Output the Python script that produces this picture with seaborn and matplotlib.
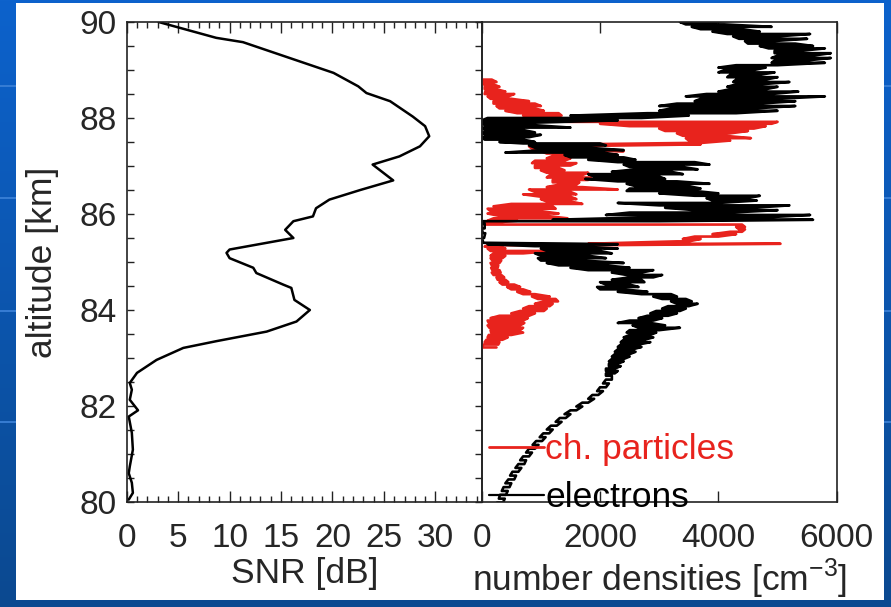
import numpy as np
import pandas as pd
import matplotlib
matplotlib.use("Agg")
import matplotlib.pyplot as plt
from matplotlib.patches import Rectangle
from matplotlib.lines import Line2D
from matplotlib.colors import LinearSegmentedColormap
import seaborn as sns

# ---------------- data ----------------
snr_alt = [90.0, 89.67, 89.58, 89.18, 88.94, 88.66, 88.52, 88.35, 88.03, 87.83, 87.62,
           87.41, 87.2, 87.03, 86.7, 86.5, 86.3, 86.12, 85.95, 85.85, 85.67, 85.5,
           85.26, 85.19, 85.08, 84.88, 84.77, 84.53, 84.46, 84.21, 84.0, 83.76, 83.55,
           83.35, 83.21, 82.96, 82.69, 82.48, 82.34, 82.13, 81.91, 81.78, 81.44, 81.09,
           80.74, 80.6, 80.4, 80.19, 80.05]
snr_db = [3.1, 8.7, 11.3, 16.8, 20.1, 22.5, 23.3, 25.6, 27.8, 29.0, 29.4,
          28.5, 26.5, 23.9, 25.9, 22.7, 19.7, 18.4, 18.1, 16.2, 15.4, 16.2,
          10.0, 9.7, 10.0, 12.3, 12.6, 15.2, 16.0, 16.3, 17.8, 16.5, 13.6,
          8.7, 5.5, 2.9, 1.0, 0.3, 0.5, 0.3, 1.1, 0.2, 0.5, 0.6,
          0.3, 0.2, 0.5, 0.6, 0.2]

# electrons: altitude rows with the low / high extent of the noisy profile
e_alt = [90.05, 90.00, 89.95, 89.90, 89.85, 89.80, 89.75, 89.70, 89.65, 89.60,
         89.55, 89.50, 89.45, 89.40, 89.35, 89.30, 89.25, 89.20, 89.15, 89.10,
         89.05, 89.00, 88.95, 88.90, 88.85, 88.80, 88.75, 88.70, 88.65, 88.60,
         88.55, 88.50, 88.45, 88.40, 88.35, 88.30, 88.25, 88.20, 88.15, 88.10,
         88.05, 88.00, 87.95, 87.90, 87.85, 87.80, 87.75, 87.70, 87.65, 87.60,
         87.55, 87.50, 87.47, 87.43, 87.38, 87.33, 87.28, 87.23, 87.18, 87.13,
         87.08, 87.03, 86.98, 86.93, 86.88, 86.83, 86.78, 86.73, 86.68, 86.63,
         86.58, 86.53, 86.48, 86.43, 86.38, 86.33, 86.28, 86.23, 86.18, 86.13,
         86.08, 86.03, 85.98, 85.93, 85.88, 85.85, 85.80, 85.70, 85.60, 85.50,
         85.40, 85.37, 85.33, 85.28, 85.23, 85.18, 85.13, 85.08, 85.03, 84.98,
         84.93, 84.88, 84.83, 84.78, 84.73, 84.68, 84.63, 84.58, 84.53, 84.48,
         84.43, 84.38, 84.33, 84.28, 84.23, 84.18, 84.13, 84.08, 84.03, 83.98,
         83.93, 83.88, 83.83, 83.78, 83.73, 83.68, 83.63, 83.58, 83.53, 83.48,
         83.43, 83.38, 83.33, 83.28, 83.23, 83.18, 83.13, 83.08, 83.03, 82.98,
         82.93, 82.88, 82.83, 82.78, 82.73, 82.68, 82.63, 82.55, 82.47, 82.39,
         82.31, 82.23, 82.15, 82.07, 81.99, 81.91, 81.83, 81.75, 81.67, 81.59,
         81.51, 81.43, 81.35, 81.27, 81.19, 81.11, 81.03, 80.95, 80.87, 80.79,
         80.71, 80.63, 80.55, 80.47, 80.39, 80.31, 80.23, 80.15, 80.07, 79.99]
e_lo = [3300, 3350, 3450, 3550, 3700, 3900, 4150, 4250, 4350, 4450,
        4500, 4700, 4850, 4950, 4950, 5000, 4900, 4950, 4900, 4300,
        4000, 4100, 4000, 4200, 4150, 4300, 4250, 4300, 4150, 4200,
        4000, 3800, 3450, 3700, 3600, 3300, 3000, 3200, 3000, 2800,
        1500, 100, 0, 0, 50, 0, 50, 0, 50, 0,
        50, 300, 700, 800, 900, 1000, 400, 1400, 1500, 1800,
        2300, 2400, 2500, 2600, 2200, 1800, 1900, 1750, 2300, 2450,
        2600, 2500, 2450, 3000, 3600, 3800, 3900, 2300, 3000, 3100,
        3600, 2500, 2100, 2800, 1200, 0, 0, 0, 20, 0,
        30, 100, 900, 1000, 1100, 900, 1000, 950, 1000, 1100,
        1300, 1500, 1800, 2200, 2450, 2500, 2200, 2000, 2100, 1950,
        2000, 2300, 2700, 2900, 3050, 3200, 3300, 3150, 3050, 2950,
        2850, 2800, 2650, 2500, 2300, 2550, 2650, 2500, 2450, 2500,
        2400, 2400, 2350, 2350, 2300, 2300, 2250, 2250, 2200, 2200,
        2150, 2150, 2150, 2100, 2100, 2100, 2100, 2100, 2050, 2000,
        1950, 1870, 1800, 1700, 1600, 1500, 1400, 1320, 1250, 1170,
        1100, 1040, 980, 920, 860, 800, 750, 700, 650, 620,
        570, 520, 480, 450, 400, 370, 340, 310, 290, 260]
e_hi = [4600, 3900, 4100, 4900, 4400, 4700, 5550, 5000, 5500, 4900,
        5300, 5600, 5800, 5400, 5900, 5600, 5900, 5500, 5800, 5000,
        4800, 4600, 4950, 4700, 5000, 4800, 5200, 4700, 5000, 4800,
        5350, 4900, 5800, 5000, 5300, 4700, 5300, 4600, 5000, 4300,
        3500, 2700, 2300, 800, 900, 1500, 700, 900, 1000, 800,
        700, 900, 2000, 2100, 1800, 2400, 2050, 2300, 2400, 2600,
        3600, 3850, 3400, 3650, 3200, 3400, 3000, 3100, 3300, 3850,
        3500, 3700, 3600, 4000, 4700, 4500, 4650, 4000, 5200, 4600,
        5000, 4200, 5550, 4800, 5600, 3000, 50, 50, 60, 40,
        80, 2300, 1600, 2300, 2000, 2200, 1800, 2100, 1700, 2400,
        2100, 2500, 2900, 2700, 3050, 2900, 2700, 2750, 2500, 2650,
        2400, 2800, 3200, 3300, 3450, 3550, 3650, 3500, 3450, 3350,
        3300, 3150, 3050, 2900, 2850, 3100, 3350, 3000, 2950, 2850,
        2900, 2750, 2850, 2650, 2700, 2550, 2600, 2500, 2500, 2400,
        2400, 2300, 2350, 2250, 2300, 2250, 2200, 2200, 2150, 2100,
        2050, 1970, 1900, 1800, 1700, 1600, 1500, 1420, 1350, 1270,
        1200, 1140, 1080, 1020, 960, 900, 850, 800, 750, 720,
        670, 620, 580, 550, 500, 470, 440, 410, 390, 360]

# charged particles: altitude rows with low / high extent
p_alt = [88.80, 88.75, 88.70, 88.65, 88.60, 88.55, 88.50, 88.45, 88.40, 88.35,
         88.30, 88.25, 88.20, 88.15, 88.10, 88.05, 88.00, 87.96, 87.92, 87.88,
         87.83, 87.78, 87.73, 87.68, 87.63, 87.58, 87.53, 87.48, 87.45, 87.41,
         87.36, 87.31, 87.26, 87.21, 87.16, 87.11, 87.06, 87.01, 86.96, 86.91,
         86.86, 86.81, 86.76, 86.71, 86.66, 86.61, 86.56, 86.51, 86.46, 86.41,
         86.36, 86.31, 86.26, 86.21, 86.16, 86.11, 86.06, 86.01, 85.96, 85.91,
         85.86, 85.82, 85.78, 85.73, 85.68, 85.63, 85.58, 85.53, 85.48, 85.43,
         85.38, 85.35, 85.32, 85.28, 85.23, 85.18, 85.13, 85.08, 85.03, 84.98,
         84.93, 84.88, 84.83, 84.78, 84.73, 84.68, 84.63, 84.58, 84.53, 84.48,
         84.43, 84.38, 84.33, 84.28, 84.23, 84.18, 84.13, 84.08, 84.03, 83.98,
         83.93, 83.88, 83.83, 83.78, 83.73, 83.68, 83.63, 83.58, 83.53, 83.48,
         83.43, 83.38, 83.33, 83.28, 83.22]
p_lo = [0, 0, 30, 50, 50, 60, 50, 100, 150, 200,
        200, 250, 300, 400, 600, 700, 900, 400, 1500, 2000,
        2500, 3000, 3100, 3300, 3400, 3450, 3500, 3450, 1500, 800,
        850, 1000, 1100, 1200, 1100, 900, 850, 900, 900, 1000,
        1100, 1150, 1100, 1200, 1200, 1300, 1100, 800, 900, 700,
        1000, 1000, 1100, 500, 200, 100, 150, 100, 300, 200,
        100, 0, 50, 4300, 4350, 4200, 3900, 3600, 3400, 3300,
        1800, 100, 50, 100, 150, 200, 150, 150, 180, 150,
        170, 160, 180, 170, 200, 250, 270, 300, 350, 430,
        500, 600, 700, 850, 950, 1050, 900, 800, 700, 650,
        500, 300, 150, 100, 120, 100, 130, 150, 160, 120,
        100, 80, 50, 30, 0]
p_hi = [170, 250, 200, 300, 250, 400, 550, 450, 500, 800,
        900, 1000, 900, 1050, 1300, 1350, 1300, 1400, 5000, 4900,
        4800, 4600, 4500, 4200, 4100, 4550, 4200, 3700, 3700, 1300,
        1250, 2400, 2000, 2300, 1500, 1400, 1600, 1500, 1300, 1400,
        1800, 1700, 1850, 1800, 1650, 1600, 1700, 2300, 1500, 1600,
        1500, 1600, 1500, 1700, 1200, 1250, 1000, 1300, 1100, 1450,
        600, 200, 4400, 4450, 4450, 4400, 4300, 4000, 3700, 3500,
        5050, 2000, 300, 400, 1200, 700, 400, 350, 330, 300,
        280, 270, 300, 320, 330, 380, 400, 450, 550, 650,
        700, 820, 900, 1150, 1250, 1290, 1200, 1150, 1100, 1050,
        900, 800, 780, 700, 720, 650, 700, 650, 700, 500,
        440, 350, 300, 280, 250]

legend_labels = ["ch. particles", "electrons"]
snr_ticks = [0, 5, 10, 15, 20, 25, 30]
dens_ticks = [0, 2000, 4000, 6000]
alt_ticks = [80, 82, 84, 86, 88, 90]


def snake(alt, lo, hi):
    """Join each row's low and high extent, alternating direction."""
    xs, ys = [], []
    for i, (a, l, h) in enumerate(zip(alt, lo, hi)):
        pair = (l, h) if i % 2 == 0 else (h, l)
        xs.extend(pair)
        ys.extend([a, a])
    return pd.DataFrame({"density": xs, "altitude": ys})


electrons = snake(e_alt, e_lo, e_hi)
particles = snake(p_alt, p_lo, p_hi)
snr = pd.DataFrame({"snr": snr_db, "altitude": snr_alt})

# ---------------- style ----------------
sns.set_style("ticks")
plt.rcParams["font.family"] = ["Liberation Sans", "DejaVu Sans"]
plt.rcParams["mathtext.fontset"] = "custom"
plt.rcParams["mathtext.rm"] = "Liberation Sans"
FS_TICK = 24
FS_LAB = 25.5
RED = "#e8231d"

W, H = 891, 607
fig = plt.figure(figsize=(W / 100, H / 100), dpi=100)

# slide background
bg = fig.add_axes([0, 0, 1, 1], zorder=-10)
grad = np.linspace(0, 1, 256).reshape(-1, 1)
cmap = LinearSegmentedColormap.from_list("slide", ["#0d62cc", "#0b4990"])
bg.imshow(grad, aspect="auto", cmap=cmap, extent=[0, 1, 0, 1], origin="upper",
          zorder=0)
for yp in [86, 198, 311, 422]:
    bg.axhline(1 - yp / H, color="#3a80d6", lw=1.3, zorder=1)
bg.add_patch(Rectangle((16 / W, 7 / H), (884 - 16) / W, (600 - 3) / H,
                       facecolor="white", edgecolor="none", zorder=3))
bg.set_xlim(0, 1)
bg.set_ylim(0, 1)
bg.axis("off")

ax_l = fig.add_axes([126.7 / W, (H - 502) / H, 355 / W, 480 / H])
ax_r = fig.add_axes([481.7 / W, (H - 502) / H, 355 / W, 480 / H], sharey=ax_l)
for ax in (ax_l, ax_r):
    ax.set_facecolor("none")
    for s in ax.spines.values():
        s.set_linewidth(1.2)
        s.set_color("#222222")
        s.set_visible(True)

# left panel: SNR
sns.lineplot(data=snr, x="snr", y="altitude", sort=False, estimator=None,
             color="black", linewidth=1.8, ax=ax_l)
ax_l.set_xlim(0, 34.5)
ax_l.set_ylim(80, 90)
ax_l.set_xticks(snr_ticks)
ax_l.set_xticks(np.arange(0, 35, 1), minor=True)
ax_l.set_yticks(alt_ticks)
ax_l.set_yticks(np.arange(80, 90.01, 0.5), minor=True)
ax_l.tick_params(axis="x", which="both", direction="in", top=True, bottom=True,
                 labelsize=FS_TICK, pad=15, color="#222222")
ax_l.tick_params(axis="x", which="major", length=8, width=1)
ax_l.tick_params(axis="x", which="minor", length=4, width=1)
ax_l.tick_params(axis="y", which="both", direction="in", left=True, right=True,
                 labelsize=FS_TICK, pad=7, length=5, width=1, color="#222222")
ax_l.set_xlabel("SNR [dB]", fontsize=FS_LAB, labelpad=2)
ax_l.set_ylabel("altitude [km]", fontsize=FS_LAB, labelpad=15)

# right panel: number densities
sns.lineplot(data=particles, x="density", y="altitude", sort=False,
             estimator=None, color=RED, linewidth=1.9, ax=ax_r)
sns.lineplot(data=electrons, x="density", y="altitude", sort=False,
             estimator=None, color="black", linewidth=1.9, ax=ax_r)
ax_r.set_xlim(0, 6000)
ax_r.set_xticks(dens_ticks)
ax_r.tick_params(axis="x", which="both", direction="in", top=True, bottom=True,
                 labelsize=FS_TICK, pad=15, length=8, width=1, color="#222222")
ax_r.tick_params(axis="y", which="both", left=False, right=False,
                 labelleft=False)
ax_r.set_xlabel(r"number densities [cm$^{-3}$]", fontsize=FS_LAB, labelpad=2)
ax_r.set_ylabel("")

handles = [Line2D([], [], color=RED, lw=2.0), Line2D([], [], color="black", lw=1.6)]
leg = ax_r.legend(handles, legend_labels, loc="lower left",
                  bbox_to_anchor=(0.02, -0.025), frameon=False, fontsize=FS_LAB,
                  handlelength=1.55, handletextpad=0.05, labelspacing=0.42,
                  borderpad=0, borderaxespad=0)
for txt, col in zip(leg.get_texts(), [RED, "black"]):
    txt.set_color(col)

fig.savefig("out.png", dpi=100)
